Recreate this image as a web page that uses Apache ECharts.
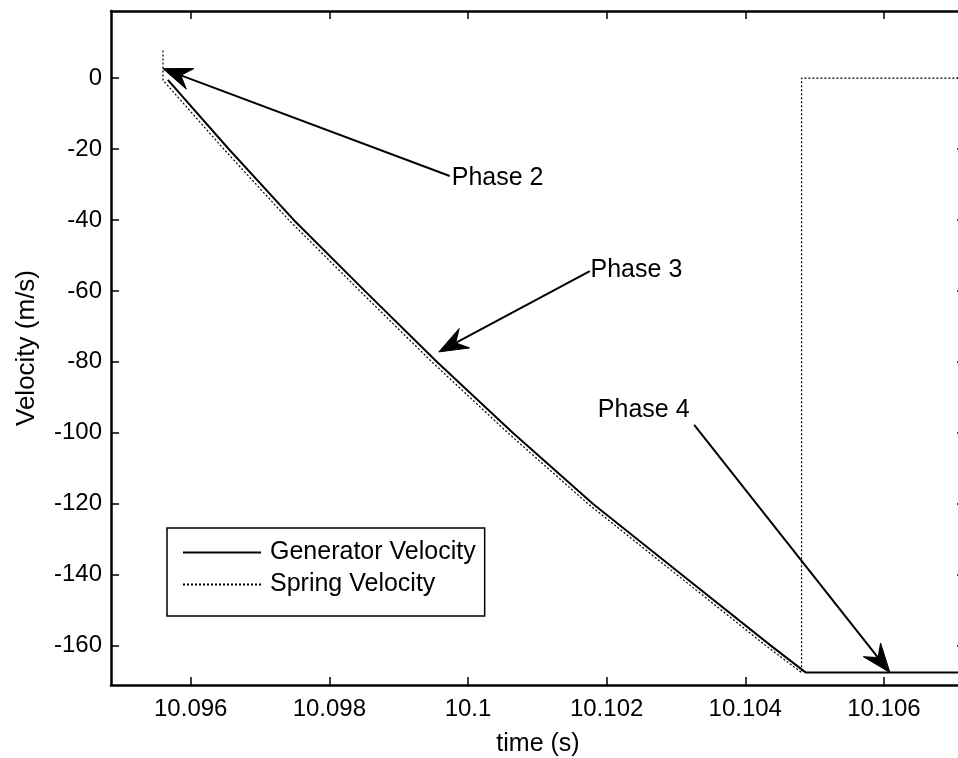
<!DOCTYPE html>
<html><head><meta charset="utf-8">
<script src="https://cdn.jsdelivr.net/npm/echarts@6/dist/echarts.min.js"></script>
<style>html,body{margin:0;padding:0;background:#fff}#c{width:958px;height:758px}</style>
</head><body><div id="c"></div>
<script>
const xTicks = [10.096, 10.098, 10.1, 10.102, 10.104, 10.106];
const yTicks = [0, -20, -40, -60, -80, -100, -120, -140, -160];
const seriesNames = ['Generator Velocity', 'Spring Velocity'];
const genTime = [10.09567, 10.096548, 10.097486, 10.098511, 10.09955, 10.100646, 10.101801, 10.103085, 10.104369, 10.104874, 10.1075];
const genVel  = [-0.5, -20, -40, -60, -80, -100, -120, -140, -160, -167.6, -167.6];
const springTime = [10.0956, 10.0956, 10.096476, 10.097414, 10.098439, 10.099478, 10.100574, 10.101729, 10.103013, 10.104297, 10.104812, 10.104812, 10.1075];
const springVel  = [7.8, -0.6, -20, -40, -60, -80, -100, -120, -140, -160, -167.6, 0, 0];
const phaseNames = ['Phase 2', 'Phase 3', 'Phase 4'];
const phaseLabelAt = [[10.099766, -28.25], [10.101768, -54.2], [10.101873, -93.6]];
const arrowFrom = [[10.099737, -27.6], [10.101758, -54.4], [10.103263, -97.8]];
const arrowTo = [[10.0956, 2.65], [10.099579, -77.2], [10.106087, -167.6]];

const FONT = '"Liberation Sans", Arial, sans-serif';
const X_MIN = 10.09485, X_MAX = 10.10717, Y_MIN = -171.1, Y_MAX = 18.9;

function xAxisDef(pos, withLabels) {
  return {
    type: 'value', min: X_MIN, max: X_MAX, position: pos,
    name: withLabels ? 'time (s)' : '', nameLocation: 'middle', nameGap: 47,
    nameTextStyle: {fontSize: 25, color: '#000', fontFamily: FONT},
    axisLine: {show: true, onZero: false, lineStyle: {color: '#000', width: 2.5}},
    axisTick: {show: true, inside: true, length: 8, customValues: xTicks, lineStyle: {color: '#000', width: 1.5}},
    axisLabel: {show: withLabels, customValues: xTicks, fontSize: 24, color: '#000', fontFamily: FONT, margin: 12,
      formatter: v => String(parseFloat(Number(v).toFixed(4)))},
    splitLine: {show: false}
  };
}
function yAxisDef(pos, withLabels) {
  return {
    type: 'value', min: Y_MIN, max: Y_MAX, position: pos,
    name: withLabels ? 'Velocity (m/s)' : '', nameLocation: 'middle', nameGap: 71,
    nameTextStyle: {fontSize: 26, color: '#000', fontFamily: FONT},
    axisLine: {show: true, onZero: false, lineStyle: {color: '#000', width: 2.5}},
    axisTick: {show: true, inside: true, length: 8, customValues: yTicks, lineStyle: {color: '#000', width: 1.5}},
    axisLabel: {show: withLabels, customValues: yTicks, fontSize: 24, color: '#000', fontFamily: FONT, margin: 9,
      formatter: v => String(Math.round(v))},
    splitLine: {show: false}
  };
}

const chart = echarts.init(document.getElementById('c'), null, {renderer: 'canvas'});
chart.setOption({
  animation: false,
  backgroundColor: '#fff',
  textStyle: {fontFamily: FONT, color: '#000'},
  grid: {left: 111, top: 11, width: 854, height: 674, containLabel: false, outerBoundsMode: 'none'},
  legend: {
    left: 167, top: 528, orient: 'vertical',
    padding: [12, 9, 19, 15], itemGap: 7, itemWidth: 78, itemHeight: 25,
    borderColor: '#000', borderWidth: 1.5, backgroundColor: '#fff',
    itemStyle: {color: 'rgba(0,0,0,0)', borderWidth: 0, opacity: 0},
    textStyle: {fontSize: 25, color: '#000', fontFamily: FONT, padding: [0, 0, 0, 4]},
    data: seriesNames, selectedMode: false
  },
  xAxis: [xAxisDef('bottom', true), xAxisDef('top', false)],
  yAxis: [yAxisDef('left', true), yAxisDef('right', false)],
  series: [
    {
      name: seriesNames[1], type: 'line', symbol: 'none', showSymbol: false,
      data: springTime.map((t, i) => [t, springVel[i]]),
      lineStyle: {color: '#000', width: 1.2, type: [2, 2]}, itemStyle: {color: '#000'}, z: 2
    },
    {
      name: seriesNames[0], type: 'line', symbol: 'none', showSymbol: false,
      data: genTime.map((t, i) => [t, genVel[i]]),
      lineStyle: {color: '#000', width: 2}, itemStyle: {color: '#000'}, z: 3,
      markPoint: {
        silent: true, animation: false, symbol: 'rect', symbolSize: 0,
        label: {show: true, position: 'right', distance: 0, fontSize: 25, color: '#000', fontFamily: FONT,
          formatter: p => p.name},
        data: phaseNames.map((n, i) => ({name: n, coord: phaseLabelAt[i]}))
      }
    }
  ]
});

// annotation arrows, positioned through the chart's own coordinate conversion
const L = 29, W = 11, NOTCH = 0.66;
const arrows = [];
arrowFrom.forEach((f, i) => {
  const p0 = chart.convertToPixel({seriesIndex: 1}, f);
  const p1 = chart.convertToPixel({seriesIndex: 1}, arrowTo[i]);
  const dx = p1[0] - p0[0], dy = p1[1] - p0[1];
  const len = Math.hypot(dx, dy);
  const ux = dx / len, uy = dy / len, nx = -uy, ny = ux;
  const notch = [p1[0] - NOTCH * L * ux, p1[1] - NOTCH * L * uy];
  arrows.push({
    type: 'polyline', silent: true, z: 10,
    shape: {points: [p0, notch]},
    style: {stroke: '#000', lineWidth: 2, fill: null}
  });
  arrows.push({
    type: 'polygon', silent: true, z: 10,
    shape: {points: [
      p1,
      [p1[0] - L * ux + W * nx, p1[1] - L * uy + W * ny],
      notch,
      [p1[0] - L * ux - W * nx, p1[1] - L * uy - W * ny]
    ]},
    style: {fill: '#000', stroke: '#000', lineWidth: 1}
  });
});
chart.setOption({graphic: arrows});
</script></body></html>
